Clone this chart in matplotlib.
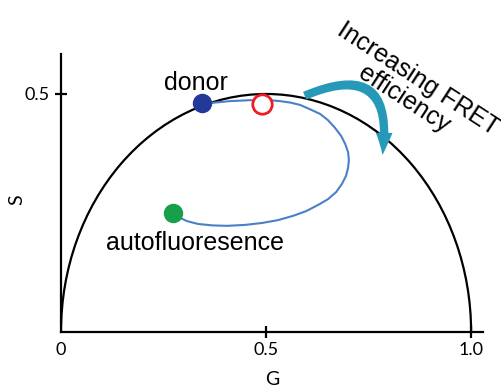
import matplotlib
matplotlib.use("Agg")
import matplotlib.pyplot as plt
from matplotlib.patches import Arc, FancyArrowPatch

plt.rcParams['font.family'] = ['Lato', 'DejaVu Sans']
annot_font = ['Liberation Sans', 'DejaVu Sans']

# phasor trajectory from donor towards autofluoresence
traj_g = [0.344, 0.363, 0.388, 0.412, 0.437, 0.461, 0.485, 0.510, 0.534, 0.559,
          0.583, 0.607, 0.632, 0.651, 0.668, 0.683, 0.693, 0.700, 0.702, 0.700,
          0.695, 0.685, 0.671, 0.651, 0.627, 0.598, 0.566, 0.529, 0.490, 0.449,
          0.405, 0.368, 0.334, 0.307, 0.285, 0.273]
traj_s = [0.481, 0.481, 0.483, 0.485, 0.486, 0.487, 0.487, 0.487, 0.485, 0.482,
          0.477, 0.468, 0.458, 0.445, 0.429, 0.412, 0.395, 0.378, 0.361, 0.345,
          0.328, 0.311, 0.294, 0.279, 0.267, 0.254, 0.244, 0.235, 0.229, 0.225,
          0.223, 0.224, 0.227, 0.233, 0.242, 0.250]

donor = (0.344, 0.481)
autofl = (0.273, 0.250)
fret_point = (0.490, 0.479)

# curved arrow, tail and head in data units
arrow_start = (0.588, 0.494)
arrow_end = (0.783, 0.366)

x_ticks = [0, 0.5, 1.0]
x_ticklabels = ['0', '0.5', '1.0']
y_ticks = [0.5]
y_ticklabels = ['0.5']

fig = plt.figure(figsize=(5.02, 3.88), dpi=100)
ax = fig.add_axes([61 / 502, 56 / 388, 422 / 502, 278 / 388])
ax.set_xlim(0, 1.029)
ax.set_ylim(0, 0.584)

# universal semicircle
ax.add_patch(Arc((0.5, 0), 1.0, 1.0, theta1=0, theta2=180,
                 color='black', lw=1.6))

ax.plot(traj_g, traj_s, color='#4a80c8', lw=1.5, solid_capstyle='round',
        solid_joinstyle='round')

ax.plot(*donor, 'o', ms=14, color='#22399a', mec='none')
ax.plot(*autofl, 'o', ms=14, color='#17a04a', mec='none')
ax.plot(*fret_point, 'o', ms=14, mfc='white', mec='#ee1c25', mew=2)

arrow = FancyArrowPatch(arrow_start, arrow_end,
                        connectionstyle='arc3,rad=-0.9',
                        arrowstyle='simple,head_length=16,head_width=12,tail_width=6',
                        mutation_scale=1, color='#2698b8', lw=0)
ax.add_patch(arrow)

ax.text(0.329, 0.508, 'donor', fontsize=18, family=annot_font,
        ha='center', va='baseline')
ax.text(0.327, 0.172, 'autofluoresence', fontsize=18, family=annot_font,
        ha='center', va='baseline')
ax.text(0.854, 0.51, 'Increasing FRET\nefficiency', fontsize=18, family=annot_font,
        ha='center', va='center', rotation=-33, rotation_mode='anchor',
        multialignment='center', linespacing=1.05)

for side in ['top', 'right']:
    ax.spines[side].set_visible(False)
for side in ['left', 'bottom']:
    ax.spines[side].set_linewidth(1.6)

ax.set_xticks(x_ticks)
ax.set_xticklabels(x_ticklabels)
ax.set_yticks(y_ticks)
ax.set_yticklabels(y_ticklabels)
ax.tick_params(direction='inout', length=9, width=1.6, labelsize=13)
ax.tick_params(axis='x', pad=3)
ax.tick_params(axis='y', pad=4)
ax.xaxis.get_major_ticks()[0].tick1line.set_visible(False)

ax.set_xlabel('G', fontsize=14)
ax.set_ylabel('S', fontsize=14)
ax.xaxis.set_label_coords(0.5, -0.142)
ax.yaxis.set_label_coords(-0.085, 0.475)

fig.savefig('out.png', dpi=100)
